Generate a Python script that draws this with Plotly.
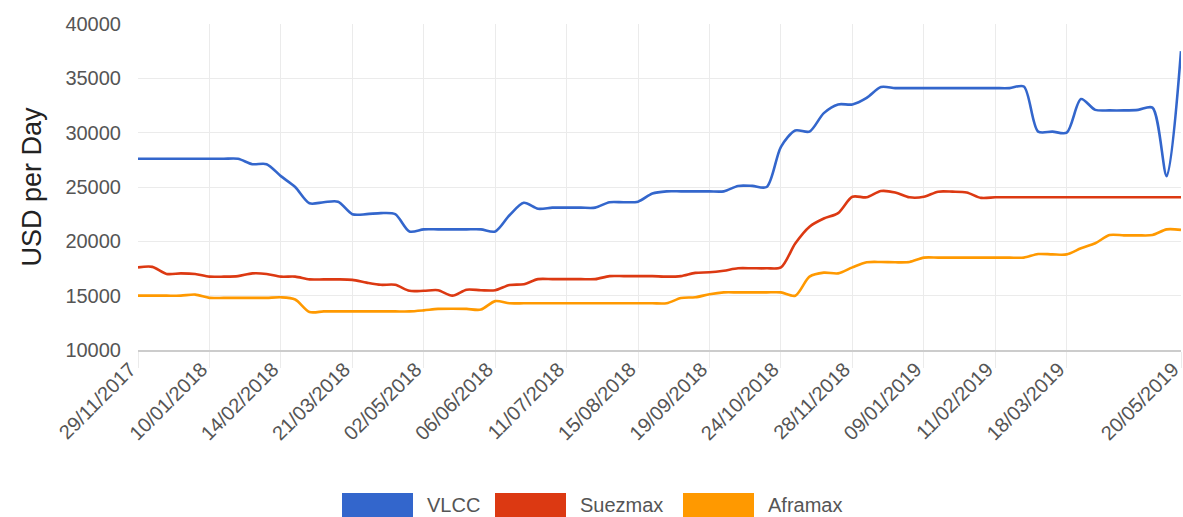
import plotly.graph_objects as go

dates = [
    "29/11/2017", "06/12/2017", "13/12/2017", "20/12/2017", "03/01/2018",
    "10/01/2018", "17/01/2018", "24/01/2018", "31/01/2018", "07/02/2018",
    "14/02/2018", "21/02/2018", "28/02/2018", "07/03/2018", "14/03/2018",
    "21/03/2018", "28/03/2018", "11/04/2018", "18/04/2018", "25/04/2018",
    "02/05/2018", "09/05/2018", "16/05/2018", "23/05/2018", "30/05/2018",
    "06/06/2018", "13/06/2018", "20/06/2018", "27/06/2018", "04/07/2018",
    "11/07/2018", "18/07/2018", "25/07/2018", "01/08/2018", "08/08/2018",
    "15/08/2018", "22/08/2018", "29/08/2018", "05/09/2018", "12/09/2018",
    "19/09/2018", "26/09/2018", "03/10/2018", "10/10/2018", "17/10/2018",
    "24/10/2018", "31/10/2018", "07/11/2018", "14/11/2018", "21/11/2018",
    "28/11/2018", "05/12/2018", "12/12/2018", "19/12/2018", "02/01/2019",
    "09/01/2019", "16/01/2019", "23/01/2019", "30/01/2019", "06/02/2019",
    "11/02/2019", "18/02/2019", "25/02/2019", "04/03/2019", "11/03/2019",
    "18/03/2019", "25/03/2019", "01/04/2019", "08/04/2019", "15/04/2019",
    "29/04/2019", "06/05/2019", "13/05/2019", "20/05/2019",
]

vlcc = [
    27600, 27600, 27600, 27600, 27600, 27600, 27600, 27600, 27100, 27100,
    26000, 25000, 23500, 23600, 23650, 22500, 22500, 22600, 22500, 20900,
    21100, 21100, 21100, 21100, 21100, 20900, 22400, 23550, 23000, 23100,
    23100, 23100, 23100, 23600, 23600, 23650, 24400, 24600, 24600, 24600,
    24600, 24600, 25100, 25100, 25000, 28700, 30200, 30100, 31800, 32600,
    32600, 33200, 34200, 34100, 34100, 34100, 34100, 34100, 34100, 34100,
    34100, 34100, 34250, 30100, 30100, 30000, 33100, 32100, 32050, 32050,
    32100, 32300, 26000, 37500,
]

suezmax = [
    17600, 17650, 17000, 17050, 17000, 16750, 16750, 16800, 17050, 17000,
    16750, 16750, 16500, 16500, 16500, 16450, 16200, 16000, 16000, 15450,
    15450, 15500, 15000, 15550, 15500, 15500, 15980, 16050, 16520, 16520,
    16520, 16520, 16520, 16800, 16800, 16800, 16800, 16750, 16800, 17100,
    17150, 17300, 17520, 17520, 17520, 17600, 19800, 21350, 22100, 22600,
    24100, 24050, 24630, 24500, 24050, 24100, 24570, 24570, 24500, 24000,
    24050, 24050, 24050, 24050, 24050, 24050, 24050, 24050, 24050, 24050,
    24050, 24050, 24050, 24050,
]

aframax = [
    15000, 15000, 15000, 15000, 15100, 14800, 14800, 14800, 14800, 14800,
    14850, 14650, 13500, 13550, 13550, 13550, 13550, 13550, 13550, 13550,
    13650, 13780, 13800, 13780, 13720, 14500, 14300, 14300, 14300, 14300,
    14300, 14300, 14300, 14300, 14300, 14300, 14300, 14300, 14780, 14850,
    15130, 15300, 15300, 15300, 15300, 15300, 15000, 16750, 17120, 17050,
    17600, 18070, 18100, 18070, 18100, 18500, 18500, 18500, 18500, 18500,
    18500, 18500, 18500, 18830, 18800, 18800, 19360, 19820, 20580, 20550,
    20550, 20580, 21100, 21050,
]

tick_labels = [
    "29/11/2017", "10/01/2018", "14/02/2018", "21/03/2018", "02/05/2018",
    "06/06/2018", "11/07/2018", "15/08/2018", "19/09/2018", "24/10/2018",
    "28/11/2018", "09/01/2019", "11/02/2019", "18/03/2019", "20/05/2019",
]

y_ticks = [10000, 15000, 20000, 25000, 30000, 35000, 40000]

series_names = ["VLCC", "Suezmax", "Aframax"]
series_values = [vlcc, suezmax, aframax]
series_colors = ["#3366cc", "#dc3912", "#ff9900"]

FONT = "Liberation Sans, Arial, sans-serif"

# figure geometry (page body margin removed via post_script)
W, H = 1183, 517
ML, MR, MT, MB = 138, 2, 24, 167
PW, PH = W - ML - MR, H - MT - MB

fig = go.Figure()
for name, vals, color in zip(series_names, series_values, series_colors):
    fig.add_trace(go.Scatter(
        x=dates, y=vals, name=name, mode="lines",
        line=dict(color=color, width=2.6, shape="spline", smoothing=0.8),
        showlegend=False,
    ))

# custom legend: wide colour swatches with labels, centred under the chart
sw_w, sw_gap, item_gap = 71, 12, 18
text_w = [52, 87, 74]
start_px = 342 - ML
sw_top_px, sw_bot_px, txt_px = 493, 520, 505
shapes, annotations = [], []
cur = start_px
for name, color, tw in zip(series_names, series_colors, text_w):
    shapes.append(dict(
        type="rect", xref="paper", yref="paper",
        x0=cur / PW, x1=(cur + sw_w) / PW,
        y0=(PH + MT - sw_bot_px) / PH, y1=(PH + MT - sw_top_px) / PH,
        fillcolor=color, line=dict(width=0), layer="above",
    ))
    annotations.append(dict(
        text=name, xref="paper", yref="paper",
        x=(cur + sw_w + sw_gap) / PW, y=(PH + MT - txt_px) / PH,
        xanchor="left", yanchor="middle", showarrow=False,
        font=dict(family=FONT, size=20, color="#555555"),
    ))
    cur += sw_w + sw_gap + tw + item_gap

fig.update_layout(
    width=W, height=H,
    margin=dict(l=ML, r=MR, t=MT, b=MB, autoexpand=False),
    paper_bgcolor="white", plot_bgcolor="white",
    font=dict(family=FONT, size=20, color="#555555"),
    showlegend=False,
    shapes=shapes, annotations=annotations,
    xaxis=dict(
        type="category", categoryorder="array", categoryarray=dates,
        range=[0, len(dates) - 1],
        tickmode="array", tickvals=tick_labels, ticktext=tick_labels,
        tickangle=-45, tickfont=dict(size=20, color="#555555"),
        showgrid=True, gridcolor="#ebebeb", gridwidth=1,
        showline=True, linecolor="#cccccc", linewidth=1.5,
        ticks="outside", ticklen=16, tickcolor="#ebebeb", tickwidth=1,
        ticklabelstandoff=-18, ticklabelshift=-8,
        zeroline=False,
    ),
    yaxis=dict(
        range=[10000, 40000], tickmode="array",
        tickvals=y_ticks, ticktext=[str(v) for v in y_ticks],
        tickfont=dict(size=20, color="#555555"),
        showgrid=True, gridcolor="#ebebeb", gridwidth=1,
        ticks="outside", ticklen=12, tickcolor="rgba(0,0,0,0)",
        zeroline=False, showline=False,
        title=dict(text="USD per Day", font=dict(size=27, color="#222222"), standoff=15),
    ),
)

fig.write_html(
    "out.html",
    config={"displayModeBar": False},
    post_script=(
        "document.body.style.margin='0';"
        "document.documentElement.style.overflow='hidden';"
        "document.body.style.overflow='hidden';"
    ),
)
